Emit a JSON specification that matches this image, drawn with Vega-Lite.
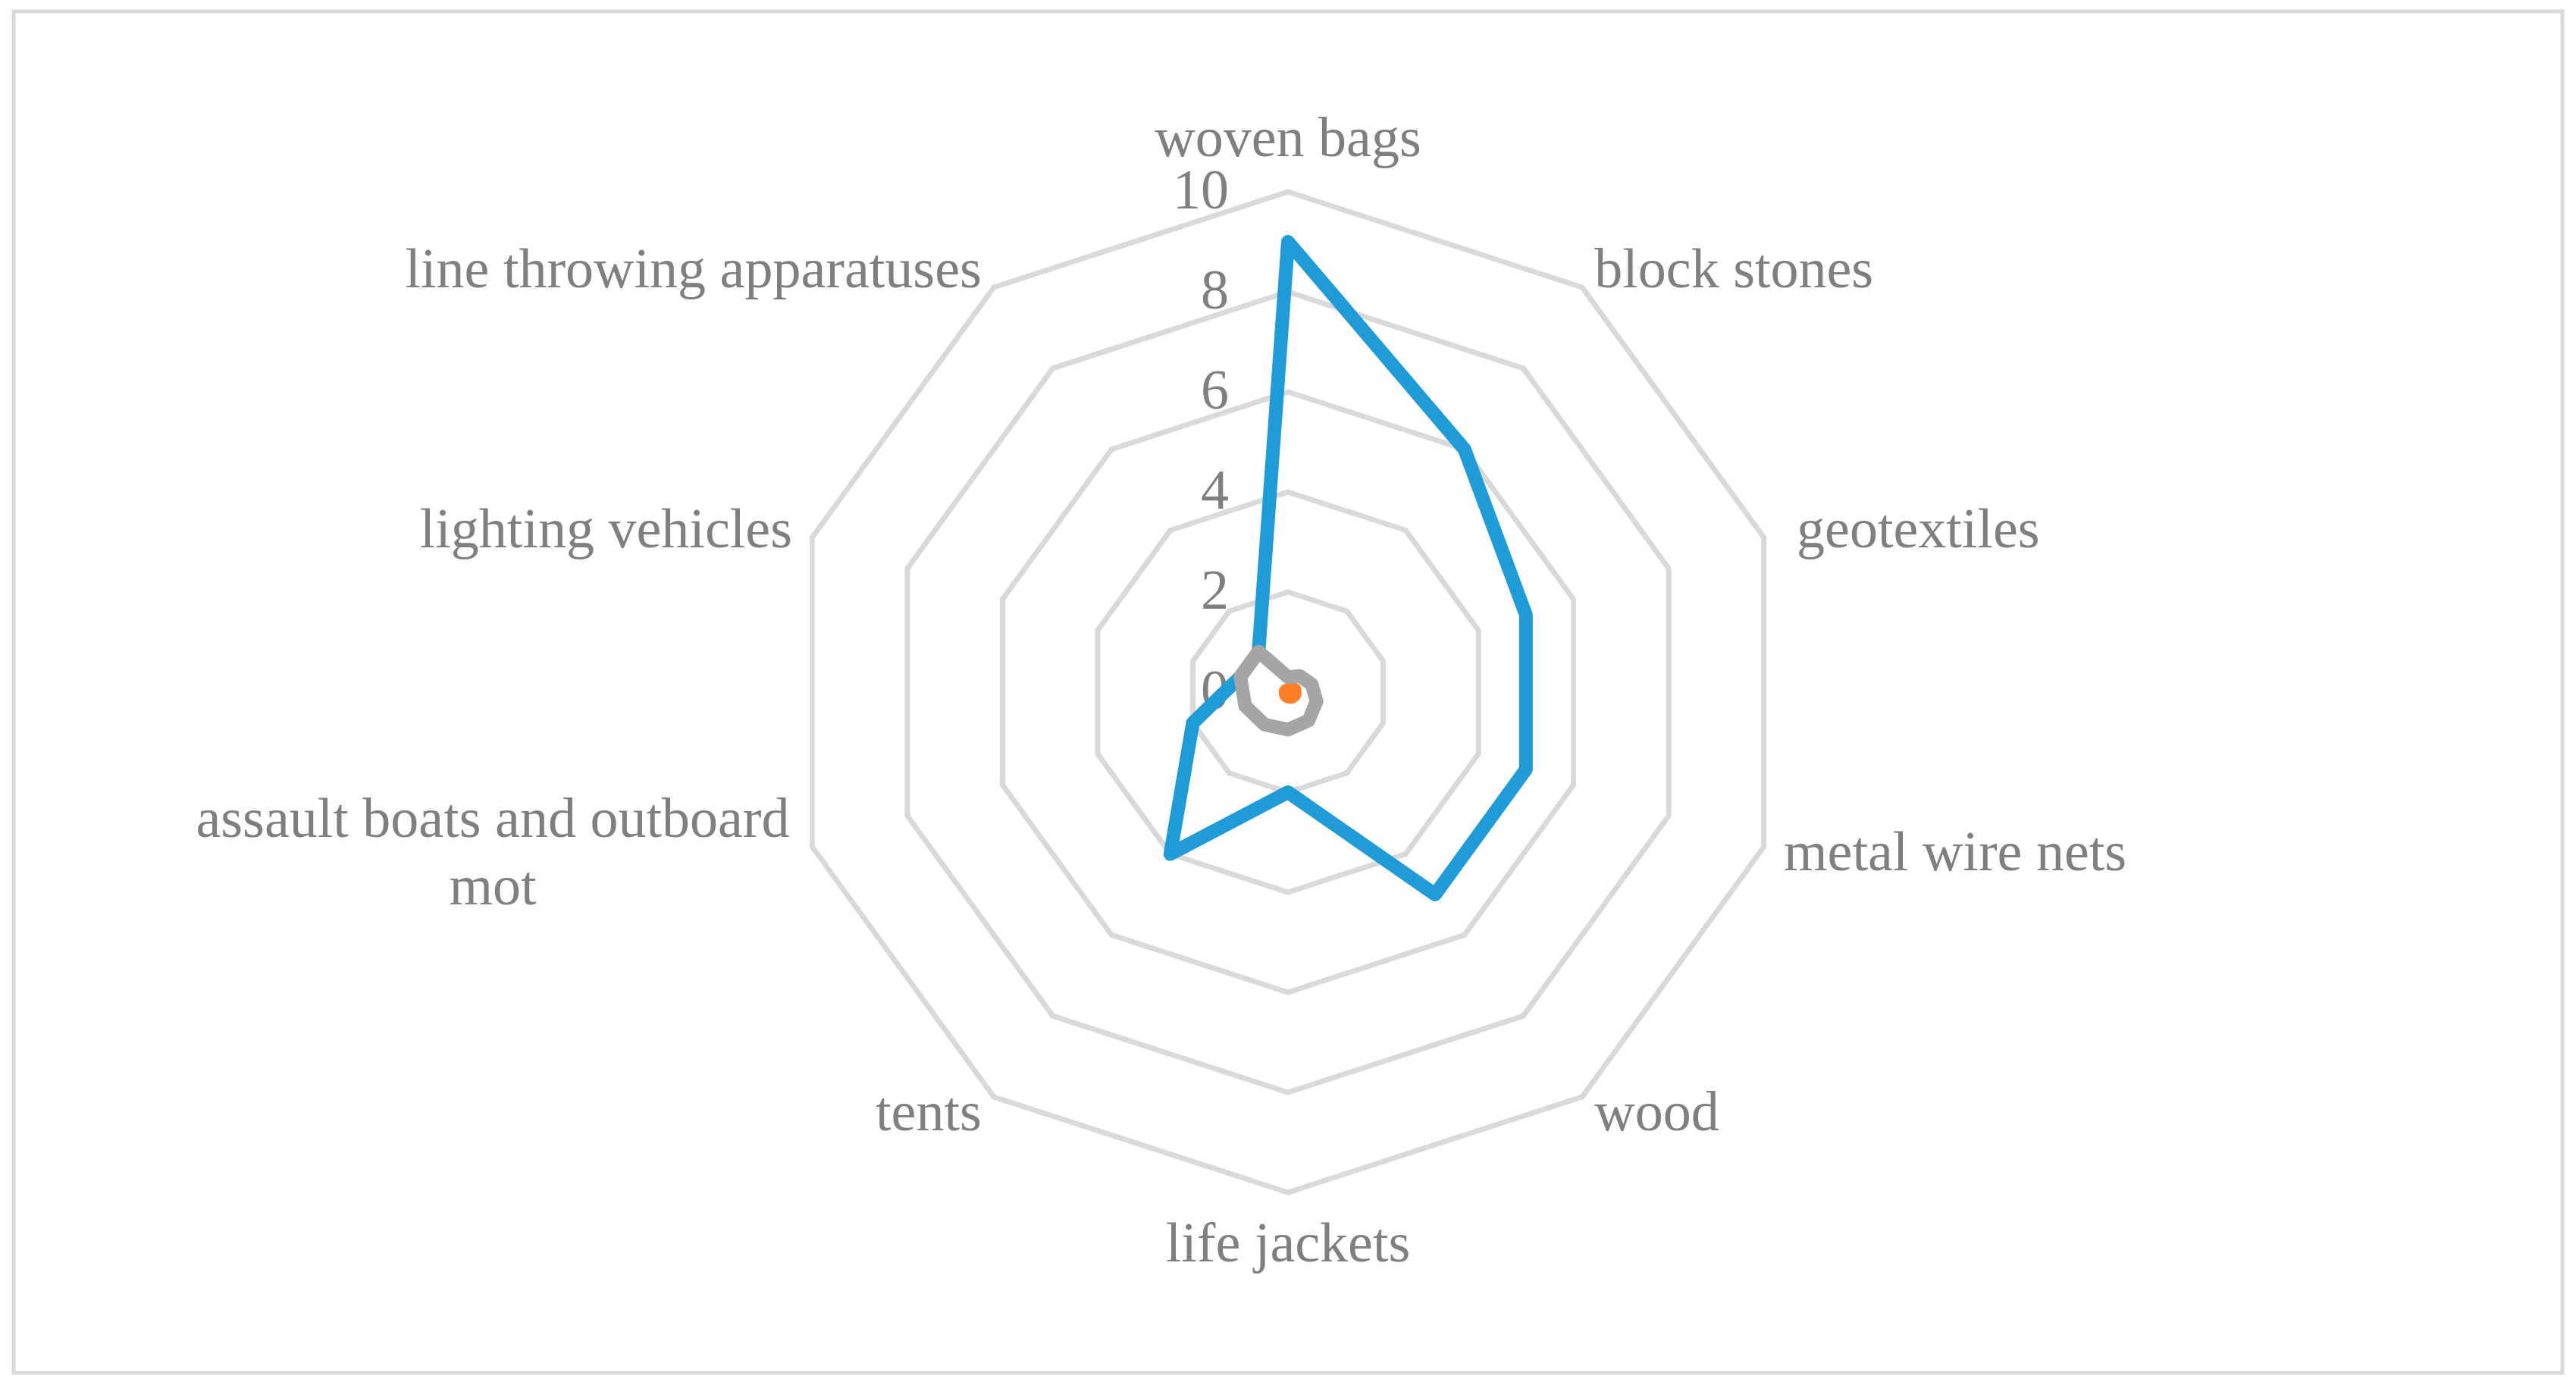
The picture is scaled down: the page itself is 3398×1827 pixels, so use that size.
{
  "$schema": "https://vega.github.io/schema/vega-lite/v6.json",
  "width": 3362,
  "height": 1796,
  "padding": {"left": 18, "top": 15, "right": 18, "bottom": 16},
  "autosize": {"type": "none"},
  "background": "white",
  "config": {
    "view": {"stroke": "#d9d9d9", "strokeWidth": 5},
    "text": {"font": "Liberation Serif", "fontSize": 74, "color": "#7f7f7f"}
  },
  "datasets": {
    "series": [
      {"category": "woven bags", "idx": 0, "series": "Series 1", "value": 9},
      {"category": "block stones", "idx": 1, "series": "Series 1", "value": 6},
      {"category": "geotextiles", "idx": 2, "series": "Series 1", "value": 5},
      {"category": "metal wire nets", "idx": 3, "series": "Series 1", "value": 5},
      {"category": "wood", "idx": 4, "series": "Series 1", "value": 5},
      {"category": "life jackets", "idx": 5, "series": "Series 1", "value": 2},
      {"category": "tents", "idx": 6, "series": "Series 1", "value": 4},
      {"category": "assault boats and outboard\nmot", "idx": 7, "series": "Series 1", "value": 2},
      {"category": "lighting vehicles", "idx": 8, "series": "Series 1", "value": 1},
      {"category": "line throwing apparatuses", "idx": 9, "series": "Series 1", "value": 1},
      {"category": "woven bags", "idx": 0, "series": "Series 2", "value": 0.03},
      {"category": "block stones", "idx": 1, "series": "Series 2", "value": 0.1},
      {"category": "geotextiles", "idx": 2, "series": "Series 2", "value": 0.14},
      {"category": "metal wire nets", "idx": 3, "series": "Series 2", "value": 0.14},
      {"category": "wood", "idx": 4, "series": "Series 2", "value": 0.12},
      {"category": "life jackets", "idx": 5, "series": "Series 2", "value": 0.09},
      {"category": "tents", "idx": 6, "series": "Series 2", "value": 0.07},
      {"category": "assault boats and outboard\nmot", "idx": 7, "series": "Series 2", "value": 0.05},
      {"category": "lighting vehicles", "idx": 8, "series": "Series 2", "value": 0.05},
      {"category": "line throwing apparatuses", "idx": 9, "series": "Series 2", "value": 0.04},
      {"category": "woven bags", "idx": 0, "series": "Series 3", "value": 0.3},
      {"category": "block stones", "idx": 1, "series": "Series 3", "value": 0.4},
      {"category": "geotextiles", "idx": 2, "series": "Series 3", "value": 0.5},
      {"category": "metal wire nets", "idx": 3, "series": "Series 3", "value": 0.6},
      {"category": "wood", "idx": 4, "series": "Series 3", "value": 0.7},
      {"category": "life jackets", "idx": 5, "series": "Series 3", "value": 0.75},
      {"category": "tents", "idx": 6, "series": "Series 3", "value": 0.8},
      {"category": "assault boats and outboard\nmot", "idx": 7, "series": "Series 3", "value": 0.9},
      {"category": "lighting vehicles", "idx": 8, "series": "Series 3", "value": 1},
      {"category": "line throwing apparatuses", "idx": 9, "series": "Series 3", "value": 1}
    ],
    "grid": [
      {"ring": 2, "idx": 0}, {"ring": 2, "idx": 1}, {"ring": 2, "idx": 2}, {"ring": 2, "idx": 3}, {"ring": 2, "idx": 4},
      {"ring": 2, "idx": 5}, {"ring": 2, "idx": 6}, {"ring": 2, "idx": 7}, {"ring": 2, "idx": 8}, {"ring": 2, "idx": 9},
      {"ring": 4, "idx": 0}, {"ring": 4, "idx": 1}, {"ring": 4, "idx": 2}, {"ring": 4, "idx": 3}, {"ring": 4, "idx": 4},
      {"ring": 4, "idx": 5}, {"ring": 4, "idx": 6}, {"ring": 4, "idx": 7}, {"ring": 4, "idx": 8}, {"ring": 4, "idx": 9},
      {"ring": 6, "idx": 0}, {"ring": 6, "idx": 1}, {"ring": 6, "idx": 2}, {"ring": 6, "idx": 3}, {"ring": 6, "idx": 4},
      {"ring": 6, "idx": 5}, {"ring": 6, "idx": 6}, {"ring": 6, "idx": 7}, {"ring": 6, "idx": 8}, {"ring": 6, "idx": 9},
      {"ring": 8, "idx": 0}, {"ring": 8, "idx": 1}, {"ring": 8, "idx": 2}, {"ring": 8, "idx": 3}, {"ring": 8, "idx": 4},
      {"ring": 8, "idx": 5}, {"ring": 8, "idx": 6}, {"ring": 8, "idx": 7}, {"ring": 8, "idx": 8}, {"ring": 8, "idx": 9},
      {"ring": 10, "idx": 0}, {"ring": 10, "idx": 1}, {"ring": 10, "idx": 2}, {"ring": 10, "idx": 3}, {"ring": 10, "idx": 4},
      {"ring": 10, "idx": 5}, {"ring": 10, "idx": 6}, {"ring": 10, "idx": 7}, {"ring": 10, "idx": 8}, {"ring": 10, "idx": 9}
    ],
    "ticks": [
      {"label": "0", "v": 0}, {"label": "2", "v": 2}, {"label": "4", "v": 4},
      {"label": "6", "v": 6}, {"label": "8", "v": 8}, {"label": "10", "v": 10}
    ]
  },
  "encoding": {
    "x": {"field": "x", "type": "quantitative", "scale": {"domain": [-25.47, 25.47], "nice": false, "zero": false}, "axis": null},
    "y": {"field": "y", "type": "quantitative", "scale": {"domain": [-13.606, 13.606], "nice": false, "zero": false}, "axis": null}
  },
  "layer": [
    {
      "data": {"name": "grid"},
      "transform": [
        {"calculate": "datum.idx * PI / 5", "as": "a"},
        {"calculate": "datum.ring * sin(datum.a)", "as": "x"},
        {"calculate": "datum.ring * cos(datum.a)", "as": "y"}
      ],
      "mark": {"type": "line", "interpolate": "linear-closed", "stroke": "#d9d9d9", "strokeWidth": 7},
      "encoding": {
        "detail": {"field": "ring", "type": "nominal"},
        "order": {"field": "idx", "type": "quantitative"}
      }
    },
    {
      "data": {"name": "ticks"},
      "transform": [
        {"calculate": "0", "as": "x"},
        {"calculate": "datum.v", "as": "y"}
      ],
      "mark": {"type": "text", "align": "right", "baseline": "middle", "dx": -78},
      "encoding": {"text": {"field": "label"}}
    },
    {
      "data": {"name": "series"},
      "transform": [
        {"calculate": "datum.idx * PI / 5", "as": "a"},
        {"calculate": "datum.value * sin(datum.a)", "as": "x"},
        {"calculate": "datum.value * cos(datum.a)", "as": "y"}
      ],
      "mark": {"type": "line", "interpolate": "linear-closed", "strokeWidth": 18, "strokeJoin": "round", "strokeCap": "round"},
      "encoding": {
        "color": {"field": "series", "type": "nominal", "scale": {"domain": ["Series 1", "Series 2", "Series 3"], "range": ["#1f9bd7", "#ff7f27", "#a5a5a5"]}, "legend": null},
        "order": {"field": "idx", "type": "quantitative"}
      }
    },
    {
      "data": {"name": "series"},
      "transform": [
        {"filter": "datum.series === 'Series 1' && (datum.idx === 0 || datum.idx === 5)"},
        {"calculate": "datum.idx * PI / 5", "as": "a"},
        {"calculate": "11.05 * sin(datum.a)", "as": "x"},
        {"calculate": "11.05 * cos(datum.a)", "as": "y"}
      ],
      "mark": {"type": "text", "align": "center", "baseline": "middle"},
      "encoding": {"text": {"field": "category"}}
    },
    {
      "data": {"name": "series"},
      "transform": [
        {"filter": "datum.series === 'Series 1' && (datum.idx === 1 || datum.idx === 3 || datum.idx === 4)"},
        {"calculate": "datum.idx * PI / 5", "as": "a"},
        {"calculate": "10.42 * sin(datum.a)", "as": "x"},
        {"calculate": "10.42 * cos(datum.a)", "as": "y"}
      ],
      "mark": {"type": "text", "align": "left", "baseline": "middle"},
      "encoding": {"text": {"field": "category"}}
    },
    {
      "data": {"name": "series"},
      "transform": [
        {"filter": "datum.series === 'Series 1' && datum.idx === 2"},
        {"calculate": "datum.idx * PI / 5", "as": "a"},
        {"calculate": "10.42 * sin(datum.a)", "as": "x"},
        {"calculate": "10.42 * cos(datum.a)", "as": "y"}
      ],
      "mark": {"type": "text", "align": "left", "baseline": "middle", "dx": 17},
      "encoding": {"text": {"field": "category"}}
    },
    {
      "data": {"name": "series"},
      "transform": [
        {"filter": "datum.series === 'Series 1' && (datum.idx === 6 || datum.idx === 8 || datum.idx === 9)"},
        {"calculate": "datum.idx * PI / 5", "as": "a"},
        {"calculate": "10.42 * sin(datum.a)", "as": "x"},
        {"calculate": "10.42 * cos(datum.a)", "as": "y"}
      ],
      "mark": {"type": "text", "align": "right", "baseline": "middle"},
      "encoding": {"text": {"field": "category"}}
    },
    {
      "data": {"name": "series"},
      "transform": [
        {"filter": "datum.series === 'Series 1' && datum.idx === 7"},
        {"calculate": "datum.idx * PI / 5", "as": "a"},
        {"calculate": "10.42 * sin(datum.a)", "as": "x"},
        {"calculate": "10.42 * cos(datum.a)", "as": "y"}
      ],
      "mark": {"type": "text", "align": "center", "baseline": "middle", "dx": -395, "dy": -44, "lineBreak": "\n", "lineHeight": 89},
      "encoding": {"text": {"field": "category"}}
    }
  ]
}
